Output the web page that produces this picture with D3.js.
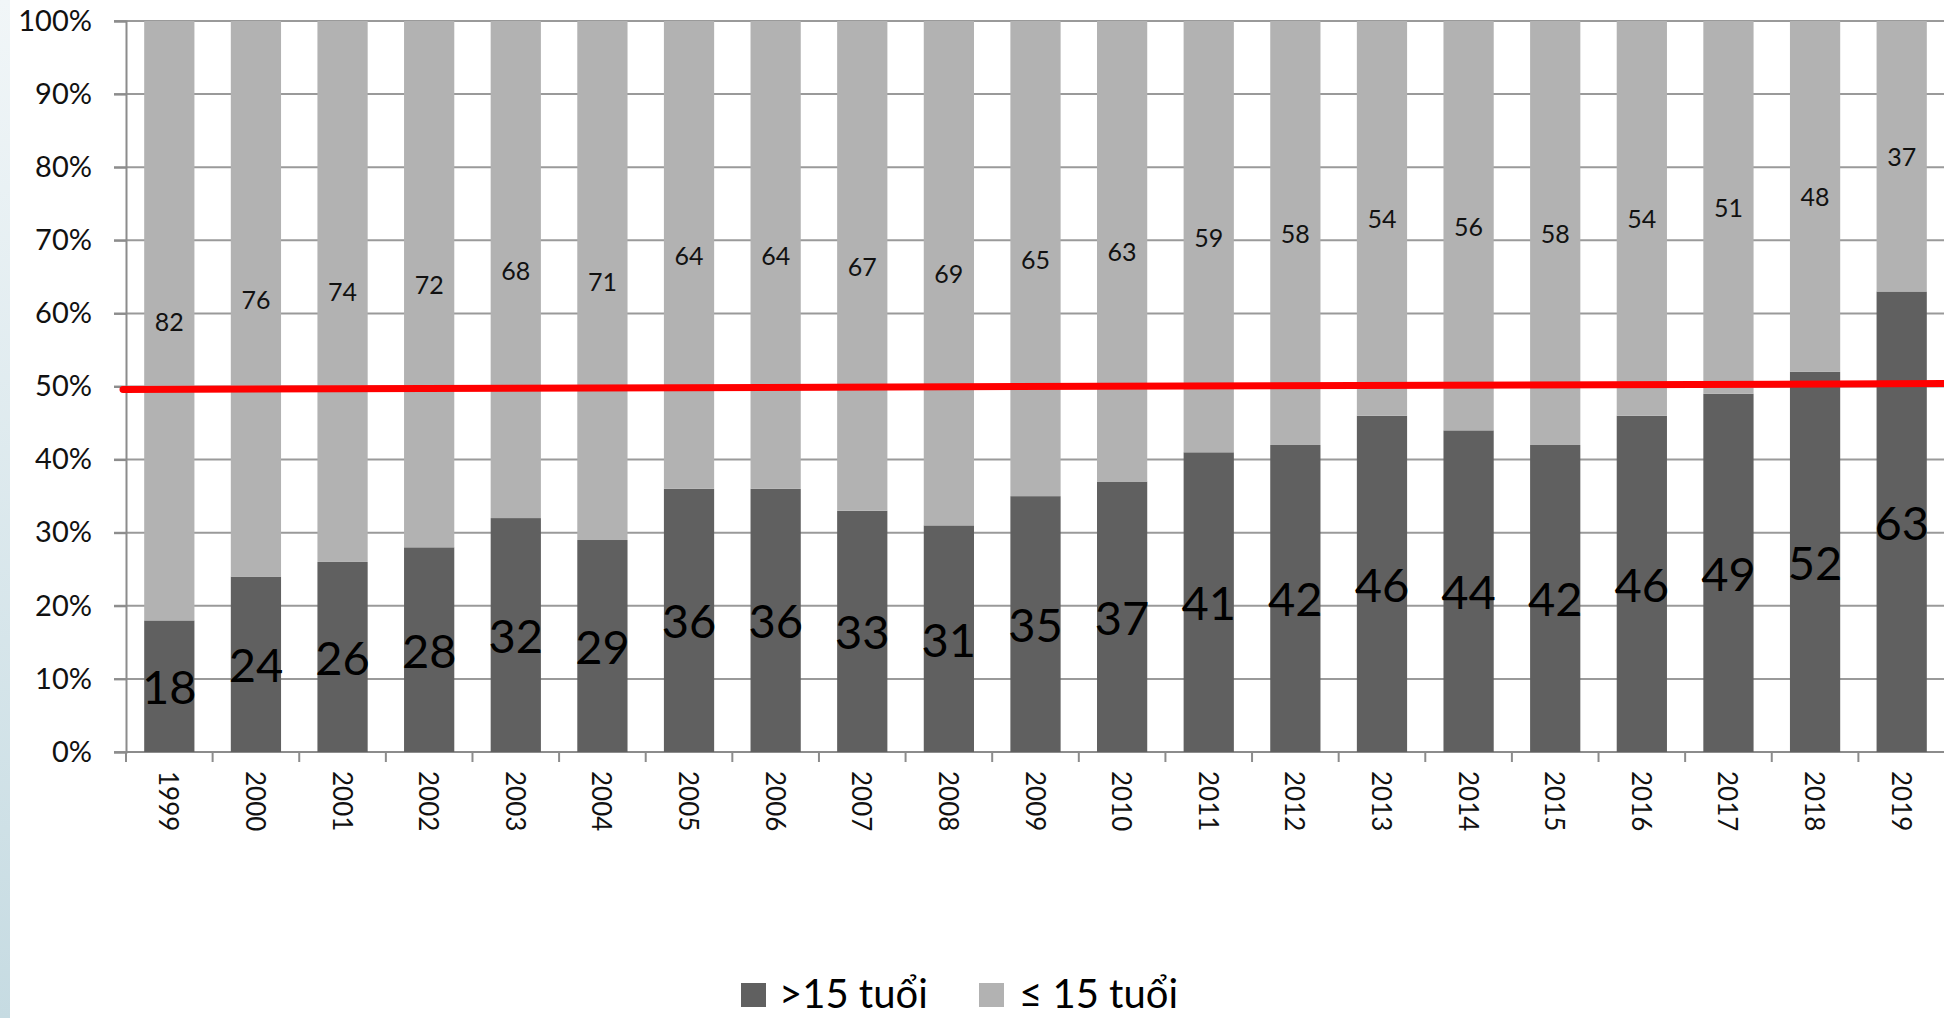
<!DOCTYPE html>
<html>
<head>
<meta charset="utf-8">
<script src="https://cdn.jsdelivr.net/npm/d3@7"></script>
<style>
    html, body { margin: 0; padding: 0; background: #fff; overflow: hidden; }
    svg { display: block; font-family: Lato, "Open Sans", sans-serif; }
</style>
</head>
<body>
<div id="chart"></div>
<script>
const years = ['1999', '2000', '2001', '2002', '2003', '2004', '2005', '2006', '2007', '2008',
    '2009', '2010', '2011', '2012', '2013', '2014', '2015', '2016', '2017', '2018', '2019'];
const over15 = [18, 24, 26, 28, 32, 29, 36, 36, 33, 31, 35, 37, 41, 42, 46, 44, 42, 46, 49, 52, 63];
const under15 = [82, 76, 74, 72, 68, 71, 64, 64, 67, 69, 65, 63, 59, 58, 54, 56, 58, 54, 51, 48, 37];
const seriesNames = ['>15 tuổi', '≤ 15 tuổi'];
const yTicks = [0, 10, 20, 30, 40, 50, 60, 70, 80, 90, 100];
// hand drawn 50% marker, left and right end values
const refLine = [49.6, 50.4];

const width = 1944, height = 1018;
const plotLeft = 126, plotTop = 21, plotBottom = 752, plotRight = 1945;
const colors = ['#606060', '#b2b2b2'];

const svg = d3.select('#chart').append('svg')
    .attr('width', width)
    .attr('height', height);

// slide edge on the left
const grad = svg.append('defs').append('linearGradient')
    .attr('id', 'edge').attr('x1', 0).attr('y1', 0).attr('x2', 0).attr('y2', 1);
grad.append('stop').attr('offset', 0).attr('stop-color', '#f1f6f8');
grad.append('stop').attr('offset', 1).attr('stop-color', '#c6dbe2');
svg.append('rect').attr('x', 0).attr('y', 0).attr('width', 10).attr('height', height)
    .attr('fill', 'url(#edge)');

const x = d3.scaleBand()
    .domain(years)
    .range([plotLeft, plotRight])
    .paddingInner(0.42)
    .paddingOuter(0.21);

const y = d3.scaleLinear()
    .domain([0, 100])
    .range([plotBottom, plotTop]);

// gridlines
svg.append('g')
    .selectAll('line')
    .data(yTicks)
    .join('line')
    .attr('x1', plotLeft - 12)
    .attr('x2', width)
    .attr('y1', d => y(d))
    .attr('y2', d => y(d))
    .attr('stroke', '#9a9a9a')
    .attr('stroke-width', 2);

// y axis
const yAxis = svg.append('g')
    .attr('transform', `translate(${plotLeft},0)`)
    .call(d3.axisLeft(y).tickValues(yTicks).tickFormat(d => d + '%').tickSize(12).tickPadding(22));
yAxis.select('.domain').attr('stroke', '#8c8c8c').attr('stroke-width', 2);
yAxis.selectAll('.tick line').attr('stroke', '#8c8c8c').attr('stroke-width', 2);
yAxis.selectAll('.tick text')
    .attr('fill', '#111')
    .style('font-size', '29px')
    .style('font-family', 'Lato, sans-serif');

// x axis line and ticks between categories
svg.append('line')
    .attr('x1', plotLeft).attr('x2', width)
    .attr('y1', plotBottom).attr('y2', plotBottom)
    .attr('stroke', '#8c8c8c').attr('stroke-width', 2);
svg.append('g')
    .selectAll('line')
    .data(d3.range(years.length + 1))
    .join('line')
    .attr('x1', i => plotLeft + i * x.step())
    .attr('x2', i => plotLeft + i * x.step())
    .attr('y1', plotBottom)
    .attr('y2', plotBottom + 10)
    .attr('stroke', '#8c8c8c')
    .attr('stroke-width', 2);

svg.append('g')
    .selectAll('text')
    .data(years)
    .join('text')
    .attr('transform', d => `translate(${x(d) + x.bandwidth() / 2},${plotBottom + 19}) rotate(90)`)
    .attr('dominant-baseline', 'central')
    .attr('text-anchor', 'start')
    .attr('fill', '#111')
    .style('font-size', '26px')
    .text(d => d);

// stacked bars
const rows = years.map((yr, i) => ({ year: yr, a: over15[i], b: under15[i] }));
const stack = d3.stack().keys(['a', 'b'])(rows);

const layers = svg.append('g')
    .selectAll('g')
    .data(stack)
    .join('g')
    .attr('fill', (d, i) => colors[i]);

layers.selectAll('rect')
    .data(d => d)
    .join('rect')
    .attr('x', d => x(d.data.year))
    .attr('width', x.bandwidth())
    .attr('y', d => y(d[1]))
    .attr('height', d => y(d[0]) - y(d[1]));

// red 50% line
svg.append('line')
    .attr('x1', plotLeft - 3)
    .attr('x2', width + 10)
    .attr('y1', y(refLine[0]))
    .attr('y2', y(refLine[1]))
    .attr('stroke', '#ff0000')
    .attr('stroke-width', 7)
    .attr('stroke-linecap', 'round');

// labels
svg.append('g')
    .selectAll('text')
    .data(stack[0])
    .join('text')
    .attr('x', d => x(d.data.year) + x.bandwidth() / 2)
    .attr('y', d => y((d[0] + d[1]) / 2))
    .attr('text-anchor', 'middle')
    .attr('dominant-baseline', 'central')
    .attr('fill', '#000')
    .style('font-size', '47px')
    .text(d => d.data.a);

svg.append('g')
    .selectAll('text')
    .data(stack[1])
    .join('text')
    .attr('x', d => x(d.data.year) + x.bandwidth() / 2)
    .attr('y', d => y((d[0] + d[1]) / 2))
    .attr('text-anchor', 'middle')
    .attr('dominant-baseline', 'central')
    .attr('fill', '#111')
    .style('font-size', '25px')
    .text(d => d.data.b);

// legend
const legend = svg.append('g').attr('transform', 'translate(741,983)');
const legendX = [0, 238];
seriesNames.forEach((name, i) => {
    const item = legend.append('g').attr('transform', `translate(${legendX[i]},0)`);
    item.append('rect')
        .attr('width', 25).attr('height', 24)
        .attr('fill', colors[i]);
    item.append('text')
        .attr('x', i === 0 ? 38 : 40)
        .attr('y', 25)
        .attr('fill', '#000')
        .style('font-size', '40px')
        .text(name);
});
</script>
</body>
</html>
